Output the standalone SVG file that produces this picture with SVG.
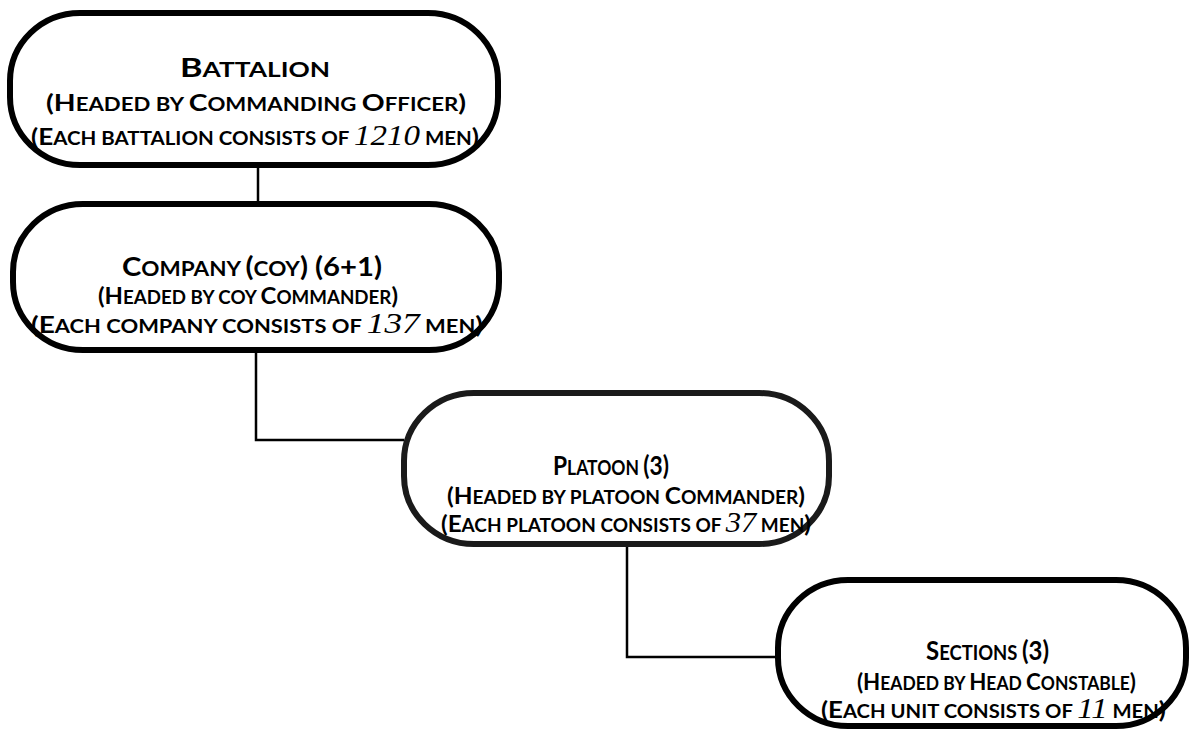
<svg xmlns="http://www.w3.org/2000/svg" width="1194" height="729" viewBox="0 0 1194 729">
<style>
.box{fill:#fff;stroke:#000;stroke-width:6}
.conn{fill:none;stroke:#000;stroke-width:2.5}
text{font-family:"Lato","Liberation Sans",sans-serif;font-weight:bold;fill:#000}
.t{font-size:20px}
.t .c{font-size:26px}
.s{font-size:18px}
.s .c{font-size:23px}
.n{font-family:"Liberation Serif",serif;font-style:italic;font-weight:normal;font-size:29px}
</style>
<rect width="1194" height="729" fill="#fff"/>
<g id="connectors">
<path class="conn" d="M258 165 V203"/>
<path class="conn" d="M256 350 V440 H404"/>
<path class="conn" d="M627 545 V657 H778"/>
</g>
<g id="battalion">
<rect class="box" x="10" y="13" width="488" height="152" rx="70" ry="68"/>
<text class="t" x="180" y="77" textLength="150" lengthAdjust="spacingAndGlyphs"><tspan class="c">B</tspan>ATTALION</text>
<text class="s" x="46" y="111" textLength="420" lengthAdjust="spacingAndGlyphs"><tspan class="c">(H</tspan>EADED BY <tspan class="c">C</tspan>OMMANDING <tspan class="c">O</tspan>FFICER<tspan class="c">)</tspan></text>
<text class="s" x="31" y="145" textLength="448" lengthAdjust="spacingAndGlyphs"><tspan class="c">(E</tspan>ACH BATTALION CONSISTS OF <tspan class="n">1210</tspan> MEN<tspan class="c">)</tspan></text>
</g>
<g id="company">
<rect class="box" x="13" y="204" width="486" height="146" rx="70" ry="68"/>
<text class="t" x="122" y="276" textLength="260" lengthAdjust="spacingAndGlyphs"><tspan class="c">C</tspan>OMPANY <tspan class="c">(</tspan>COY<tspan class="c">) (6+1)</tspan></text>
<text class="s" x="98" y="304" textLength="300" lengthAdjust="spacingAndGlyphs"><tspan class="c">(H</tspan>EADED BY COY <tspan class="c">C</tspan>OMMANDER<tspan class="c">)</tspan></text>
<text class="s" x="31" y="333" textLength="452" lengthAdjust="spacingAndGlyphs"><tspan class="c">(E</tspan>ACH COMPANY CONSISTS OF <tspan class="n">137</tspan> MEN<tspan class="c">)</tspan></text>
</g>
<g id="platoon">
<rect class="box" x="404" y="393" width="425" height="151" rx="70" ry="68" style="stroke:#1a1a1a"/>
<text class="t" x="553" y="475" textLength="116" lengthAdjust="spacingAndGlyphs"><tspan class="c">P</tspan>LATOON <tspan class="c">(3)</tspan></text>
<text class="s" x="447" y="504" textLength="358" lengthAdjust="spacingAndGlyphs"><tspan class="c">(H</tspan>EADED BY PLATOON <tspan class="c">C</tspan>OMMANDER<tspan class="c">)</tspan></text>
<text class="s" x="441" y="532" textLength="370" lengthAdjust="spacingAndGlyphs"><tspan class="c">(E</tspan>ACH PLATOON CONSISTS OF <tspan class="n">37</tspan> MEN<tspan class="c">)</tspan></text>
</g>
<g id="sections">
<rect class="box" x="778" y="580" width="408" height="146" rx="70" ry="68"/>
<text class="t" x="926" y="660" textLength="123" lengthAdjust="spacingAndGlyphs"><tspan class="c">S</tspan>ECTIONS <tspan class="c">(3)</tspan></text>
<text class="s" x="857" y="690" textLength="279" lengthAdjust="spacingAndGlyphs"><tspan class="c">(H</tspan>EADED BY <tspan class="c">H</tspan>EAD <tspan class="c">C</tspan>ONSTABLE<tspan class="c">)</tspan></text>
<text class="s" x="821" y="718" textLength="345" lengthAdjust="spacingAndGlyphs"><tspan class="c">(E</tspan>ACH UNIT CONSISTS OF <tspan class="n">11</tspan> MEN<tspan class="c">)</tspan></text>
</g>
</svg>
